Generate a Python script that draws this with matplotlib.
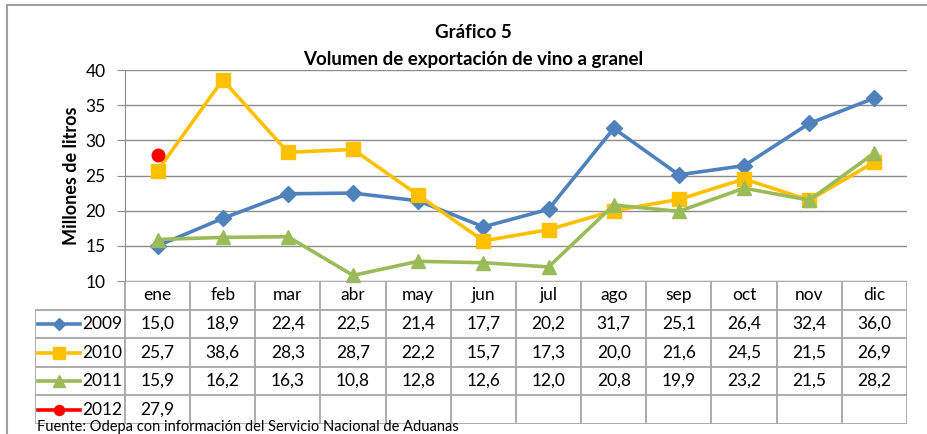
"""Gráfico 5: volumen de exportación de vino a granel, con tabla de datos."""

import matplotlib

matplotlib.use("Agg")
import matplotlib.pyplot as plt
from matplotlib.patches import Rectangle

W, H = 927, 434

months = ["ene", "feb", "mar", "abr", "may", "jun", "jul", "ago", "sep", "oct", "nov", "dic"]
years = ["2009", "2010", "2011", "2012"]
v2009 = [15.0, 18.9, 22.4, 22.5, 21.4, 17.7, 20.2, 31.7, 25.1, 26.4, 32.4, 36.0]
v2010 = [25.7, 38.6, 28.3, 28.7, 22.2, 15.7, 17.3, 20.0, 21.6, 24.5, 21.5, 26.9]
v2011 = [15.9, 16.2, 16.3, 10.8, 12.8, 12.6, 12.0, 20.8, 19.9, 23.2, 21.5, 28.2]
v2012 = [27.9]
yticks = [10, 15, 20, 25, 30, 35, 40]

series = [v2009, v2010, v2011, v2012]
colors = ["#4F81BD", "#FFC000", "#9BBB59", "#FF0000"]
markers = ["D", "s", "^", "o"]
msizes = [8, 10, 10, 9]

GRID = "#8C8C8C"
TABLE = "#A6A6A6"
FONT = ["Lato", "DejaVu Sans"]
plt.rcParams["font.family"] = FONT


def box(left, top, right, bottom):
    """Pixel box -> fig fraction [l, b, w, h]."""
    return [left / W, 1 - bottom / H, (right - left) / W, (bottom - top) / H]


fig = plt.figure(figsize=(W / 100, H / 100), dpi=100)
fig.patches.append(Rectangle((7 / W, -0.1), 1.2, 1.1 - 5 / H, transform=fig.transFigure,
                             fill=False, edgecolor="#A0A0A0", linewidth=1.5))

# chart
ax = fig.add_axes(box(125, 70, 907, 281))
x = range(len(months))
for vals, c, m, ms in zip(series, colors, markers, msizes):
    ax.plot(list(x)[:len(vals)], vals, color=c, marker=m, markersize=ms, linewidth=2.6,
            markeredgecolor=c, zorder=3, clip_on=False)
ax.set_xlim(-0.5, len(months) - 0.5)
ax.set_ylim(yticks[0], yticks[-1])
ax.set_yticks(yticks)
ax.set_xticks([])
ax.yaxis.grid(True, color=GRID, linewidth=1)
ax.set_axisbelow(True)
for side in ["top", "right", "bottom"]:
    ax.spines[side].set_visible(False)
ax.spines["left"].set_color(GRID)
ax.tick_params(axis="y", length=6, color=GRID, labelsize=12.5, pad=8)
ax.set_ylabel("Millones de litros", fontsize=13, fontweight="bold", labelpad=4)

fig.text(473 / W, 1 - 33 / H, "Gráfico 5", ha="center", va="center", fontsize=13.5, fontweight="bold")
fig.text(473 / W, 1 - 59 / H, "Volumen de exportación de vino a granel", ha="center", va="center",
         fontsize=13.5, fontweight="bold")

# data table
tab = fig.add_axes(box(35, 281, 907, 424))
legw = 90 / 65.17
x0 = -0.5 - legw
tab.set_xlim(x0, len(months) - 0.5)
tab.set_ylim(len(years) + 1, 0)
tab.axis("off")

tab.hlines(0, -0.5, len(months) - 0.5, color=TABLE, linewidth=1.3)
tab.hlines(range(1, len(years) + 2), x0, len(months) - 0.5, color=TABLE, linewidth=1.3)
tab.vlines(x0, 1, len(years) + 1, color=TABLE, linewidth=1.3)
tab.vlines([i - 0.5 for i in range(len(months) + 1)], 0, len(years) + 1, color=TABLE, linewidth=1.3)

for i, mth in enumerate(months):
    tab.text(i, 0.5, mth, ha="center", va="center", fontsize=12.5)
for r, (yr, vals, c, m, ms) in enumerate(zip(years, series, colors, markers, msizes), start=1):
    tab.plot([x0 + 0.046, x0 + 0.69], [r + 0.5, r + 0.5], color=c, linewidth=2.6)
    tab.plot([x0 + 0.37], [r + 0.5], color=c, marker=m, markersize=ms * 0.8, markeredgecolor=c)
    tab.text(x0 + 0.72, r + 0.5, yr, ha="left", va="center", fontsize=12.5)
    for i, v in enumerate(vals):
        tab.text(i, r + 0.5, f"{v:.1f}".replace(".", ","), ha="center", va="center", fontsize=12.5)

fig.text(37 / W, 1 - 427 / H, "Fuente: Odepa con información del Servicio Nacional de Aduanas",
         ha="left", va="center", fontsize=10.5)

fig.savefig("out.png", dpi=100)
